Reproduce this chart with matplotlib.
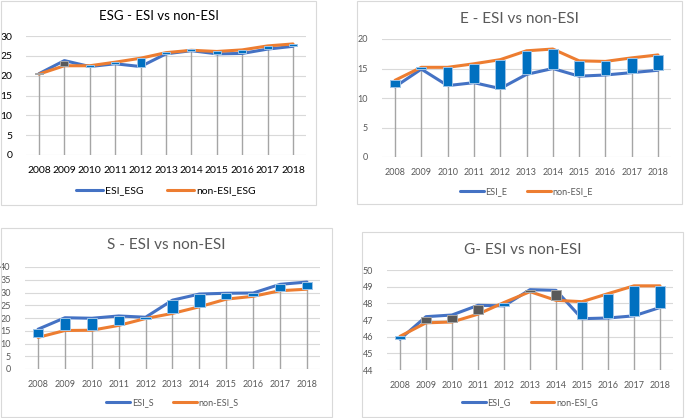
import numpy as np
import matplotlib
matplotlib.use("Agg")
import matplotlib.pyplot as plt
from matplotlib.patches import Rectangle

years = ["2008", "2009", "2010", "2011", "2012", "2013", "2014", "2015", "2016", "2017", "2018"]

esi_esg = [20.5, 23.8, 22.3, 23.0, 22.3, 25.5, 26.3, 25.5, 25.6, 26.7, 27.4]
non_esi_esg = [20.4, 22.5, 22.5, 23.4, 24.4, 25.8, 26.4, 26.1, 26.5, 27.5, 28.0]

esi_e = [11.9, 14.9, 12.1, 12.6, 11.6, 14.0, 15.0, 13.7, 13.9, 14.3, 14.7]
non_esi_e = [13.0, 15.2, 15.2, 15.8, 16.5, 18.0, 18.3, 16.3, 16.2, 16.8, 17.3]

esi_s = [15.6, 20.1, 19.9, 20.8, 20.3, 27.0, 29.4, 29.7, 29.8, 33.2, 34.1]
non_esi_s = [12.4, 15.1, 15.2, 17.1, 19.8, 21.8, 24.4, 27.4, 28.5, 30.7, 31.3]

esi_g = [45.85, 47.2, 47.3, 47.88, 47.85, 48.82, 48.78, 47.08, 47.12, 47.25, 47.75]
non_esi_g = [46.02, 46.83, 46.88, 47.35, 48.05, 48.7, 48.18, 48.1, 48.58, 49.05, 49.05]

FIG_W, FIG_H = 685, 418
BLUE = "#4472C4"
ORANGE = "#ED7D31"
UP = "#0070C0"
DOWN = "#595959"
GRID = "#D9D9D9"

plt.rcParams["font.family"] = ["Lato", "DejaVu Sans"]

fig = plt.figure(figsize=(FIG_W / 100, FIG_H / 100), dpi=100)
fig.patch.set_facecolor("white")


def px_axes(left, right, top, bottom):
    return fig.add_axes([left / FIG_W, 1 - bottom / FIG_H,
                         (right - left) / FIG_W, (bottom - top) / FIG_H])


def panel(box, area, title, title_y, first, second, names, ylim, ystep,
          up_when_second_higher=True, text_color="#595959", title_size=10.5,
          tick_size=6.5, legend_y=-0.3, bar_w=0.34):
    # panel border
    bx0, by0, bx1, by1 = box
    fig.add_artist(Rectangle((bx0 / FIG_W, 1 - by1 / FIG_H),
                             (bx1 - bx0) / FIG_W, (by1 - by0) / FIG_H,
                             transform=fig.transFigure, fill=False,
                             edgecolor=GRID, lw=0.8))
    ax = px_axes(*area)
    x = np.arange(len(years))
    a = np.array(first)
    b = np.array(second)

    ax.set_ylim(*ylim)
    ax.set_xlim(-0.5, len(years) - 0.5)
    ax.set_yticks(np.arange(ylim[0], ylim[1] + 0.01, ystep))
    ax.grid(axis="y", color=GRID, lw=0.8)
    ax.set_axisbelow(True)
    for s in ax.spines.values():
        s.set_visible(False)

    # drop lines
    ax.vlines(x, ylim[0], np.maximum(a, b), color="#A5A5A5", lw=1.0, zorder=1)

    ax.plot(x, a, color=BLUE, lw=2.2, label=names[0], zorder=2,
            solid_capstyle="round")
    ax.plot(x, b, color=ORANGE, lw=2.2, label=names[1], zorder=2,
            solid_capstyle="round")

    # up/down bars
    for xi, va, vb in zip(x, a, b):
        up = (vb >= va) if up_when_second_higher else True
        col = UP if up else DOWN
        edge = "#9DC3E6" if up else "#A6A6A6"
        lo, hi = min(va, vb), max(va, vb)
        h = max(hi - lo, (ylim[1] - ylim[0]) * 0.012)
        ax.bar(xi, h, bottom=lo, width=bar_w, color=col, edgecolor=edge,
               lw=0.7, zorder=3)

    ax.set_xticks(x)
    ax.set_xticklabels(years)
    ax.tick_params(length=0, labelsize=tick_size, colors=text_color, pad=8)
    ax.tick_params(axis="y", pad=10)

    cx = (bx0 + bx1) / 2
    fig.text(cx / FIG_W, 1 - title_y / FIG_H, title, ha="center", va="center",
             fontsize=title_size, color=text_color)
    leg = ax.legend(loc="center", bbox_to_anchor=(0.5, legend_y), ncol=2,
                    frameon=False, fontsize=tick_size, handlelength=2.6,
                    columnspacing=2.2, handletextpad=0.2)
    for t in leg.get_texts():
        t.set_color(text_color)
    return ax


# ESG
panel((1, 1, 316, 205), (26.3, 305.7, 36, 155), "ESG - ESI vs non-ESI", 16,
      esi_esg, non_esi_esg, ("ESI_ESG", "non-ESI_ESG"), (0, 30), 5,
      text_color="#000000", title_size=9.5, tick_size=7.5, legend_y=-0.30,
      bar_w=0.32)

# E
panel((357, 1, 682, 204), (381.9, 671.1, 39, 157), "E - ESI vs non-ESI", 19,
      esi_e, non_esi_e, ("ESI_E", "non-ESI_E"), (0, 20), 5,
      title_size=11, tick_size=6.5, legend_y=-0.29, bar_w=0.37)

# S
panel((1, 228, 332, 417), (24.6, 320.4, 267, 369), "S - ESI vs non-ESI", 245,
      esi_s, non_esi_s, ("ESI_S", "non-ESI_S"), (0, 40), 5,
      up_when_second_higher=False, title_size=11, tick_size=6.5,
      legend_y=-0.33, bar_w=0.38)

# G
panel((362, 232, 683, 417), (387, 673, 270, 370), "G- ESI vs non-ESI", 250,
      esi_g, non_esi_g, ("ESI_G", "non-ESI_G"), (44, 50), 1,
      title_size=11, tick_size=6.5, legend_y=-0.33, bar_w=0.38)

fig.savefig("out.png", dpi=100, facecolor="white")
